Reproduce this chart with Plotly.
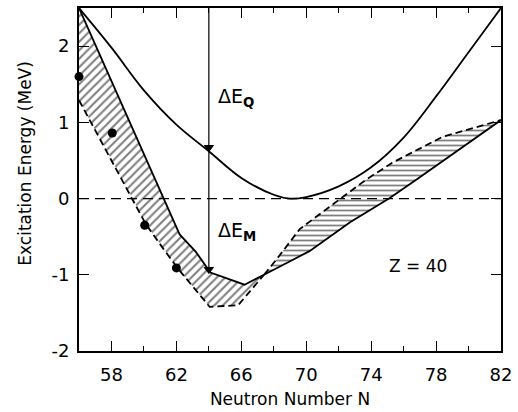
import plotly.graph_objects as go

# ---- data ----
q_N = [56, 58, 60, 62, 64, 66, 68, 69, 70, 72, 74, 76, 78, 80, 82]
q_E = [2.5, 1.98, 1.42, 0.97, 0.62, 0.27, 0.05, 0.0, 0.02, 0.16, 0.41, 0.80, 1.34, 1.92, 2.5]

left_up_N = [56, 61.2, 62.2, 63.2, 64.1, 66.2, 67.4]
left_up_E = [2.5, 0.0, -0.47, -0.70, -0.97, -1.13, -1.0]
left_lo_N = [56, 59.3, 60.1, 61.2, 62.1, 64.05, 65.8, 67.4]
left_lo_E = [1.29, 0.0, -0.33, -0.66, -0.92, -1.42, -1.40, -1.0]

right_up_N = [67.4, 68.2, 69.6, 72.15, 73.7, 75.3, 78.4, 82]
right_up_E = [-1.0, -0.79, -0.40, 0.0, 0.25, 0.47, 0.81, 1.03]
right_lo_N = [67.4, 70.2, 72.7, 75.1, 76.8, 82]
right_lo_E = [-1.0, -0.69, -0.31, 0.0, 0.25, 1.03]

exp_N = [56, 58.05, 60.05, 62]
exp_E = [1.6, 0.86, -0.35, -0.91]

x_ticks = [58, 62, 66, 70, 74, 78, 82]
y_ticks = [-2, -1, 0, 1, 2]
y_ticktext = ["-2", "-1", "0", "1", "2"]

arrow_N = [64, 64]
arrow_E = [2.5, -0.98]
head_N = [64, 64]
head_E = [0.67, -0.93]

FONT = "DejaVu Sans"
LW = 1.8
fig = go.Figure()

# hatched bands
fig.add_trace(go.Scatter(
    x=left_up_N + left_lo_N[::-1], y=left_up_E + left_lo_E[::-1],
    fill="toself", fillcolor="rgba(0,0,0,0)", mode="lines", line=dict(width=0),
    fillpattern=dict(shape="/", size=6, solidity=0.35, fgcolor="black", bgcolor="white"),
    hoverinfo="skip", showlegend=False))
fig.add_trace(go.Scatter(
    x=right_up_N + right_lo_N[::-1], y=right_up_E + right_lo_E[::-1],
    fill="toself", fillcolor="rgba(0,0,0,0)", mode="lines", line=dict(width=0),
    fillpattern=dict(shape="-", size=5, solidity=0.35, fgcolor="black", bgcolor="white"),
    hoverinfo="skip", showlegend=False))

# edges
fig.add_trace(go.Scatter(x=left_up_N, y=left_up_E, mode="lines",
                         line=dict(color="black", width=LW), showlegend=False))
fig.add_trace(go.Scatter(x=left_lo_N, y=left_lo_E, mode="lines",
                         line=dict(color="black", width=LW, dash="7px,4px"), showlegend=False))
fig.add_trace(go.Scatter(x=right_up_N, y=right_up_E, mode="lines",
                         line=dict(color="black", width=LW, dash="7px,4px"), showlegend=False))
fig.add_trace(go.Scatter(x=right_lo_N, y=right_lo_E, mode="lines",
                         line=dict(color="black", width=LW), showlegend=False))

# Q curve
fig.add_trace(go.Scatter(x=q_N, y=q_E, mode="lines", line_shape="spline",
                         line=dict(color="black", width=LW, smoothing=1.0), showlegend=False))

# experimental points
fig.add_trace(go.Scatter(x=exp_N, y=exp_E, mode="markers",
                         marker=dict(color="black", size=9), cliponaxis=False, showlegend=False))

# zero line
fig.add_hline(y=0, line=dict(color="black", width=1.3, dash="10px,6px"))

# vertical arrow line and heads
fig.add_trace(go.Scatter(x=arrow_N, y=arrow_E, mode="lines",
                         line=dict(color="black", width=1.2), showlegend=False))
fig.add_trace(go.Scatter(x=head_N, y=head_E, mode="markers",
                         marker=dict(color="rgb(0,0,0)", size=[8, 8], symbol="triangle-down",
                                     opacity=1, line=dict(color="rgb(0,0,0)", width=1)),
                         showlegend=False))

fig.add_annotation(x=64.42, y=1.33, xref="x", yref="y", xanchor="left", yanchor="middle",
                   text="ΔE<sub><b>Q</b></sub>", showarrow=False,
                   font=dict(family=FONT, size=19, color="black"))
fig.add_annotation(x=64.42, y=-0.43, xref="x", yref="y", xanchor="left", yanchor="middle",
                   text="ΔE<sub><b>M</b></sub>", showarrow=False,
                   font=dict(family=FONT, size=19, color="black"))
fig.add_annotation(x=76.87, y=-0.88, xref="x", yref="y", xanchor="center", yanchor="middle",
                   text="Z = 40", showarrow=False,
                   font=dict(family=FONT, size=17, color="black"))

# y axis title as annotation (pixel position converted to paper coords)
fig.add_annotation(x=(25 - 79) / 426, y=1 - (163 - 6) / 347, xref="paper", yref="paper",
                   xanchor="center", yanchor="middle", text="Excitation Energy (MeV)",
                   showarrow=False, textangle=-90, font=dict(family=FONT, size=17, color="black"))

fig.update_layout(
    width=518, height=412,
    margin=dict(l=79, r=13, t=6, b=59),
    paper_bgcolor="white", plot_bgcolor="white",
    font=dict(family=FONT, size=17, color="black"),
    showlegend=False,
)
fig.update_xaxes(
    range=[56, 82], tickvals=x_ticks, ticks="inside", ticklen=10, tickwidth=1.3,
    tickcolor="black", showline=True, linecolor="black", linewidth=2, mirror="ticks",
    showgrid=False, zeroline=False, ticklabelstandoff=6,
    minor=dict(dtick=2, tick0=56, ticks="inside", ticklen=5, tickcolor="black", tickwidth=1.3, showgrid=False),
    title=dict(text="Neutron Number N", font=dict(family=FONT, size=17), standoff=10),
    tickfont=dict(family=FONT, size=18),
)
fig.update_yaxes(
    range=[-2, 2.5], tickvals=y_ticks, ticktext=y_ticktext, ticks="inside", ticklen=10,
    tickwidth=1.3, tickcolor="black", showline=True, linecolor="black", linewidth=2,
    mirror="ticks", showgrid=False, zeroline=False, ticklabelstandoff=4,
    tickfont=dict(family=FONT, size=18),
)

fig.write_html("out.html")
